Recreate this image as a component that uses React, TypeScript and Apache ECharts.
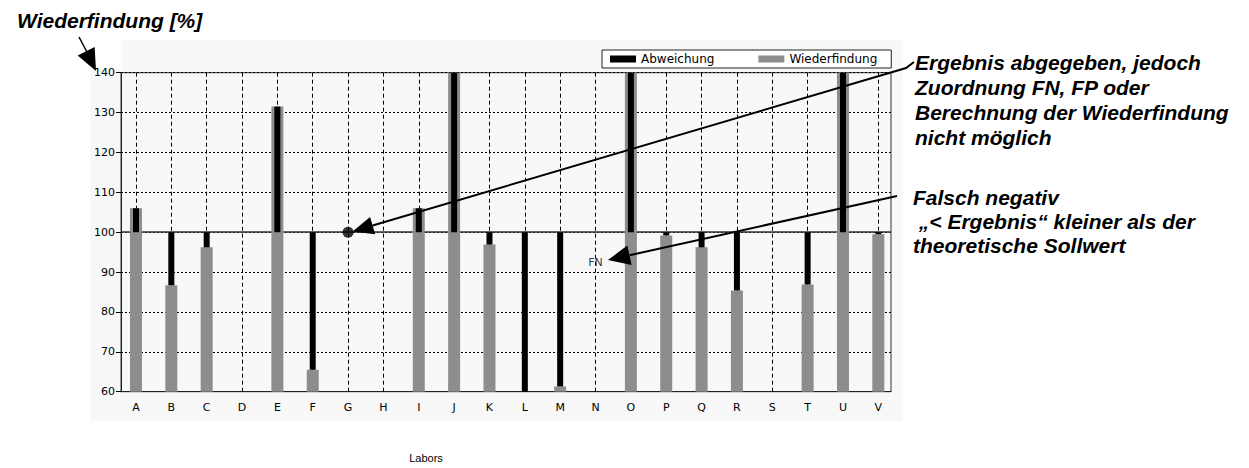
import React, { useEffect, useRef } from "react";
import * as echarts from "echarts";

// ---- data ----
const categories = ["A", "B", "C", "D", "E", "F", "G", "H", "I", "J", "K", "L", "M", "N", "O", "P", "Q", "R", "S", "T", "U", "V"];
// Wiederfindung [%] per Labor (null = kein Balken); values above 140 are off scale
const recovery: (number | null)[] = [106, 86.7, 96.2, null, 131.5, 65.5, null, null, 106, 150, 96.9, 60, 61.3, null, 150, 99.2, 96.2, 85.4, null, 86.9, 150, 99.5];
const referenceValue = 100;
const yMin = 60;
const yMax = 140;
const yInterval = 10;
// Ergebnis abgegeben, Zuordnung nicht möglich
const notAssignable: [string, number][] = [["G", 100]];
// Falsch negativ
const falseNegative: [string, number][] = [["N", 92.4]];

const legendNames = ["Abweichung", "Wiederfindung"];
const titleText = "Wiederfindung [%]";
const xAxisTitle = "Labors";
const note1 = ["Ergebnis abgegeben, jedoch", "Zuordnung FN, FP oder", "Berechnung der Wiederfindung", "nicht möglich"];
const note2 = ["Falsch negativ", " \u201E< Ergebnis\u201C kleiner als der", "theoretische Sollwert"];

const baseData = recovery.map((v) => (v == null ? "-" : Math.min(v, referenceValue)));
const devData = recovery.map((v) => (v == null ? "-" : Math.abs(v - referenceValue)));
const recData = recovery.map((v) => (v == null ? "-" : v));

function arrowHead(tip: number[], tail: number[], len: number, hw: number) {
  const dx = tail[0] - tip[0];
  const dy = tail[1] - tip[1];
  const d = Math.sqrt(dx * dx + dy * dy);
  const ux = dx / d;
  const uy = dy / d;
  const bx = tip[0] + ux * len;
  const by = tip[1] + uy * len;
  return [tip, [bx - uy * hw, by + ux * hw], [bx + uy * hw, by - ux * hw]];
}

const boldItalic = (size: number) => `italic bold ${size}px "Liberation Sans", Arial, sans-serif`;

export default function App() {
  const ref = useRef<HTMLDivElement>(null);
  useEffect(() => {
    if (!ref.current) return;
    const chart = echarts.init(ref.current, null, { renderer: "svg" });

    const plotTop = 72.7;
    const plotH = 319;

    const graphics: any[] = [
      { type: "rect", z: -10, silent: true, shape: { x: 90, y: 40, width: 813, height: 381 }, style: { fill: "#f8f8f8" } },
      { type: "rect", z: -9, silent: true, shape: { x: 86, y: 38, width: 35, height: 31 }, style: { fill: "#ffffff" } },
      { type: "text", z: 100, style: { text: titleText, x: 17, y: 20, font: boldItalic(21), fill: "#000", verticalAlign: "middle" } },
      { type: "text", z: 100, style: { text: xAxisTitle, x: 426, y: 458, font: '11px "Liberation Sans", Arial, sans-serif', fill: "#000", align: "center", verticalAlign: "middle" } },
    ];
    note1.forEach((t, i) => {
      graphics.push({ type: "text", z: 100, style: { text: t, x: 915, y: 62.5 + i * 25, font: boldItalic(21), fill: "#000", verticalAlign: "middle" } });
    });
    note2.forEach((t, i) => {
      graphics.push({ type: "text", z: 100, style: { text: t, x: 913, y: 197.8 + i * 24, font: boldItalic(21), fill: "#000", verticalAlign: "middle" } });
    });

    // title arrow
    const tA = [96, 71];
    const tT = [79, 37];
    graphics.push({ type: "polyline", z: 100, shape: { points: [tT, [88, 54]] }, style: { stroke: "#000", lineWidth: 1.5, fill: null } });
    graphics.push({ type: "polygon", z: 100, shape: { points: arrowHead(tA, tT, 22, 9.5) }, style: { fill: "#000" } });

    // arrow 1 (to the dot at G)
    const a1Tip = [352.5, 231.5];
    const a1Mid = [906, 68];
    const a1End = [914, 62];
    const h1 = arrowHead(a1Tip, a1Mid, 21, 9);
    graphics.push({ type: "polyline", z: 100, shape: { points: [[(h1[1][0] + h1[2][0]) / 2, (h1[1][1] + h1[2][1]) / 2], a1Mid, a1End] }, style: { stroke: "#000", lineWidth: 2, fill: null } });
    graphics.push({ type: "polygon", z: 100, shape: { points: h1 }, style: { fill: "#000" } });

    // arrow 2 (to FN)
    const a2Tip = [608, 260];
    const a2End = [897, 196];
    const h2 = arrowHead(a2Tip, a2End, 22, 10);
    graphics.push({ type: "polyline", z: 100, shape: { points: [[(h2[1][0] + h2[2][0]) / 2, (h2[1][1] + h2[2][1]) / 2], a2End] }, style: { stroke: "#000", lineWidth: 2, fill: null } });
    graphics.push({ type: "polygon", z: 100, shape: { points: h2 }, style: { fill: "#000" } });

    const option: any = {
      animation: false,
      backgroundColor: "#ffffff",
      textStyle: { fontFamily: '"DejaVu Sans", sans-serif' },
      legend: {
        data: legendNames,
        left: 602,
        top: 50,
        padding: [2, 14, 2, 8],
        itemWidth: 26,
        itemHeight: 7,
        itemGap: 44,
        icon: "rect",
        borderColor: "#222",
        borderWidth: 1,
        borderRadius: 0,
        backgroundColor: "#ffffff",
        textStyle: { fontFamily: '"DejaVu Sans", sans-serif', fontSize: 12, color: "#000", lineHeight: 14 },
        selectedMode: false,
      },
      grid: [
        { left: 118.3, top: plotTop, width: 777.7, height: plotH, containLabel: false },
        { left: 121, top: plotTop, width: 770, height: plotH, containLabel: false, show: true, borderColor: "#333", borderWidth: 1, backgroundColor: "transparent" },
      ],
      xAxis: [
        {
          type: "category",
          gridIndex: 0,
          data: categories,
          boundaryGap: true,
          axisLine: { show: false },
          axisTick: { show: false },
          splitLine: { show: false },
          axisLabel: { fontSize: 11, color: "#000", margin: 10, fontFamily: '"DejaVu Sans", sans-serif' },
        },
        {
          type: "value",
          gridIndex: 1,
          min: 0,
          max: 1,
          axisLine: { show: true, onZero: false, lineStyle: { color: "#222", width: 1 } },
          axisTick: { show: false },
          axisLabel: { show: false },
          splitLine: { show: false },
        },
        {
          type: "category",
          gridIndex: 0,
          data: categories,
          show: false,
          boundaryGap: true,
        },
      ],
      yAxis: [
        { type: "value", gridIndex: 0, min: yMin, max: yMax, interval: yInterval, show: false, splitLine: { show: false } },
        {
          type: "value",
          gridIndex: 1,
          min: yMin,
          max: yMax,
          interval: yInterval,
          axisLine: { show: true, onZero: false, lineStyle: { color: "#222", width: 1 } },
          axisTick: { show: true, length: 5, lineStyle: { color: "#000" } },
          axisLabel: { fontSize: 11, color: "#000", margin: 6, fontFamily: '"DejaVu Sans", sans-serif' },
          splitLine: { show: true, lineStyle: { type: [2, 2], color: "#000", width: 1 } },
        },
      ],
      series: [
        {
          name: "Wiederfindung",
          type: "bar",
          xAxisIndex: 0,
          yAxisIndex: 0,
          barWidth: 12,
          data: recData,
          itemStyle: { color: "#8d8d8d" },
          z: 2,
          clip: true,
          markLine: {
            silent: true,
            symbol: "none",
            z: 1,
            label: { show: false },
            lineStyle: { type: [4, 3], color: "#000", width: 1 },
            data: categories.map((c) => ({ xAxis: c })),
          },
        },
        {
          name: "_base",
          type: "bar",
          stack: "dev",
          xAxisIndex: 2,
          yAxisIndex: 0,
          barWidth: 6,
          data: baseData,
          itemStyle: { color: "rgba(0,0,0,0)" },
          silent: true,
          z: 3,
          clip: true,
        },
        {
          name: "Abweichung",
          type: "bar",
          stack: "dev",
          xAxisIndex: 2,
          yAxisIndex: 0,
          barWidth: 6,
          data: devData,
          itemStyle: { color: "#000" },
          z: 3,
          clip: true,
        },
        {
          name: "nicht zuordenbar",
          type: "scatter",
          xAxisIndex: 0,
          yAxisIndex: 0,
          data: notAssignable,
          symbol: "circle",
          symbolSize: 11,
          itemStyle: { color: "#000" },
          z: 4,
        },
        {
          name: "FN",
          type: "scatter",
          xAxisIndex: 0,
          yAxisIndex: 0,
          data: falseNegative,
          symbolSize: 0,
          itemStyle: { color: "#000" },
          label: {
            show: true,
            position: "inside",
            formatter: "FN",
            fontSize: 11,
            color: "#000",
            textBorderWidth: 0,
            textBorderColor: "transparent",
            fontFamily: '"DejaVu Sans", sans-serif',
          },
          z: 4,
        },
        {
          name: "_ref",
          type: "line",
          xAxisIndex: 1,
          yAxisIndex: 1,
          data: [],
          markLine: {
            silent: true,
            symbol: "none",
            z: 1,
            label: { show: false },
            lineStyle: { type: "solid", color: "#333", width: 1.5 },
            data: [{ yAxis: referenceValue }],
          },
        },
      ],
      graphic: graphics,
    };
    chart.setOption(option);
    return () => chart.dispose();
  }, []);
  return <div ref={ref} style={{ position: "fixed", left: 0, top: 0, width: 1249, height: 468 }} />;
}
